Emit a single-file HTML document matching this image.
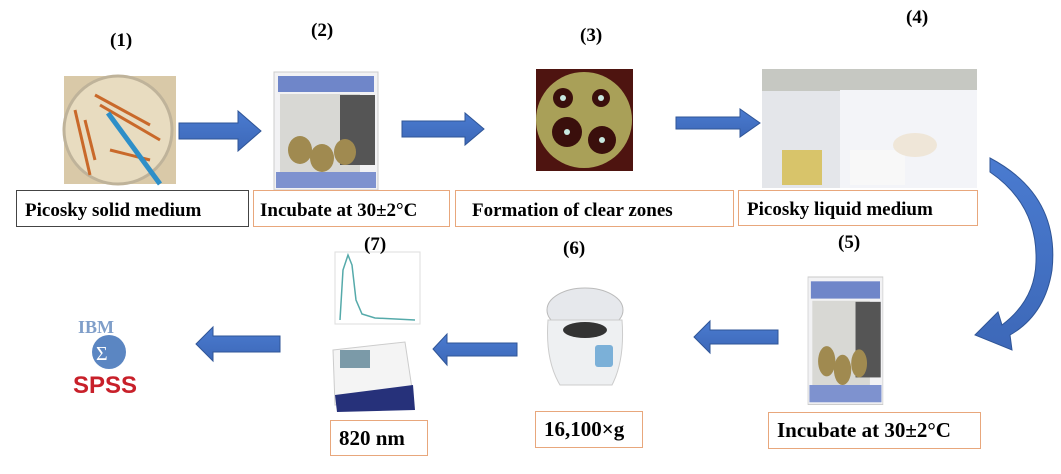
<!DOCTYPE html>
<html><head><meta charset="utf-8"><style>
body{margin:0;background:#fff;width:1061px;height:474px;overflow:hidden;position:relative;font-family:"Liberation Serif",serif}
.t{position:absolute;font-weight:bold;font-size:19px;color:#000;white-space:nowrap}
.b{position:absolute;box-sizing:border-box;border:1px solid #e8a77c;font-weight:bold;font-size:19px;display:flex;align-items:center;padding-left:8px;white-space:nowrap;background:#fff}
.c{font-size:21px;transform-origin:left center}
svg{position:absolute;left:0;top:0}
</style></head><body>
<svg width="1061" height="474">
<defs>
<linearGradient id="ar" x1="0" y1="0" x2="0" y2="1"><stop offset="0" stop-color="#4a7bd0"/><stop offset="1" stop-color="#3d68b8"/></linearGradient>
</defs>
<rect x="64" y="76" width="112" height="108" fill="#d9c9a8"/>
<circle cx="118" cy="130" r="54" fill="#e8dcc0" stroke="#bfb39a" stroke-width="3"/>
<g stroke="#c9692a" stroke-width="3" fill="none"><path d="M75 110 L90 175"/><path d="M95 95 L150 125"/><path d="M100 105 L160 140"/><path d="M110 150 L150 160"/><path d="M85 120 L95 160"/></g>
<line x1="108" y1="113" x2="160" y2="184" stroke="#2e8fc8" stroke-width="5"/>
<g id="inc"><rect x="274" y="72" width="104" height="118" fill="#f2f2f4" stroke="#ccc"/>
<rect x="278" y="76" width="96" height="16" fill="#6f86c9"/>
<rect x="280" y="94" width="80" height="78" fill="#d8d8d4"/><rect x="340" y="95" width="35" height="70" fill="#555"/>
<g fill="#a08a50"><ellipse cx="300" cy="150" rx="12" ry="14"/><ellipse cx="322" cy="158" rx="12" ry="14"/><ellipse cx="345" cy="152" rx="11" ry="13"/></g>
<rect x="276" y="172" width="100" height="16" fill="#7e92cf"/></g>
<use href="#inc" transform="translate(808,277) scale(0.72,1.08) translate(-274,-72)"/>
<rect x="536" y="69" width="97" height="102" fill="#4e1410"/>
<circle cx="584" cy="120" r="48" fill="#a9a058"/>
<g fill="#3a0f0c"><circle cx="563" cy="98" r="10"/><circle cx="601" cy="98" r="9"/><circle cx="567" cy="132" r="15"/><circle cx="602" cy="140" r="14"/></g>
<g fill="#c8e8e0"><circle cx="563" cy="98" r="3"/><circle cx="601" cy="98" r="3"/><circle cx="567" cy="132" r="3"/><circle cx="602" cy="140" r="3"/></g>
<rect x="762" y="69" width="215" height="119" fill="#e4e6ea"/>
<rect x="762" y="69" width="215" height="22" fill="#c6c8c2"/>
<rect x="840" y="90" width="137" height="98" fill="#f3f4f8"/>
<rect x="782" y="150" width="40" height="35" fill="#d8c46a"/>
<rect x="850" y="150" width="55" height="35" fill="#f8f8f8"/>
<ellipse cx="915" cy="145" rx="22" ry="12" fill="#efe6d8"/>
<rect x="335" y="252" width="85" height="72" fill="#fff" stroke="#ddd"/>
<path d="M340 320 L343 270 L348 255 L352 265 L356 300 L362 314 L375 318 L415 320" fill="none" stroke="#5aa" stroke-width="1.5"/>
<path d="M333 350 L405 342 L413 395 L335 405 Z" fill="#f4f4f4" stroke="#ccc"/>
<rect x="340" y="350" width="30" height="18" fill="#7b9aa8"/>
<path d="M335 395 L413 385 L415 410 L337 412 Z" fill="#26317a"/>
<ellipse cx="585" cy="310" rx="38" ry="22" fill="#e6e8ec" stroke="#bbb"/>
<path d="M548 320 Q545 360 560 385 L612 385 Q625 360 622 320 Z" fill="#eef0f2" stroke="#ccc"/>
<ellipse cx="585" cy="330" rx="22" ry="8" fill="#333"/>
<rect x="595" y="345" width="18" height="22" rx="3" fill="#7bb0d8"/>
<rect x="68" y="315" width="96" height="82" fill="#fff"/>
<text x="78" y="333" font-family="Liberation Serif" font-weight="bold" font-size="18" fill="#7f9ec9">IBM</text>
<circle cx="109" cy="352" r="17" fill="#5b86c2"/>
<text x="96" y="360" font-size="20" fill="#fff" font-family="Liberation Serif">Σ</text>
<text x="73" y="393" font-family="Liberation Sans" font-weight="bold" font-size="24" fill="#c8202a">SPSS</text>
<g fill="url(#ar)" stroke="#2f5597" stroke-width="1">
<path d="M179 123 L238 123 L238 111 L261 131 L238 151 L238 139 L179 139 Z"/>
<path d="M402 121 L465 121 L465 113 L484 129 L465 145 L465 137 L402 137 Z"/>
<path d="M676 117 L740 117 L740 109 L760 123 L740 137 L740 129 L676 129 Z"/>
<path d="M778 330 L710 330 L710 321 L694 337 L710 353 L710 344 L778 344 Z"/>
<path d="M517 343 L447 343 L447 334 L433 349 L447 365 L447 356 L517 356 Z"/>
<path d="M280 336 L213 336 L213 327 L196 344 L213 361 L213 352 L280 352 Z"/>
<path d="M990 158 Q1060 195 1052 270 Q1045 315 1010 335 L1012 350 L975 335 L998 312 L1002 325 Q1035 300 1036 262 Q1038 205 990 172 Z"/>
</g>
</svg>
<div class="t" style="left:110px;top:30px">(1)</div>
<div class="t" style="left:311px;top:20px">(2)</div>
<div class="t" style="left:580px;top:25px">(3)</div>
<div class="t" style="left:906px;top:7px">(4)</div>
<div class="t" style="left:838px;top:232px">(5)</div>
<div class="t" style="left:563px;top:238px">(6)</div>
<div class="t" style="left:364px;top:234px">(7)</div>
<div class="b" style="left:16px;top:190px;width:233px;height:37px;border-color:#444;padding-top:4px">Picosky solid medium</div>
<div class="b" style="left:253px;top:190px;width:197px;height:37px;padding-left:6px;padding-top:4px">Incubate at 30±2°C</div>
<div class="b" style="left:455px;top:190px;width:279px;height:37px;padding-left:16px;padding-top:4px">Formation of clear zones</div>
<div class="b" style="left:738px;top:190px;width:240px;height:36px;padding-top:4px">Picosky liquid medium</div>
<div class="b c" style="left:768px;top:412px;width:213px;height:37px">Incubate at 30±2°C</div>
<div class="b c" style="left:535px;top:411px;width:108px;height:37px">16,100×g</div>
<div class="b c" style="left:330px;top:420px;width:98px;height:36px">820 nm</div>
</body></html>
